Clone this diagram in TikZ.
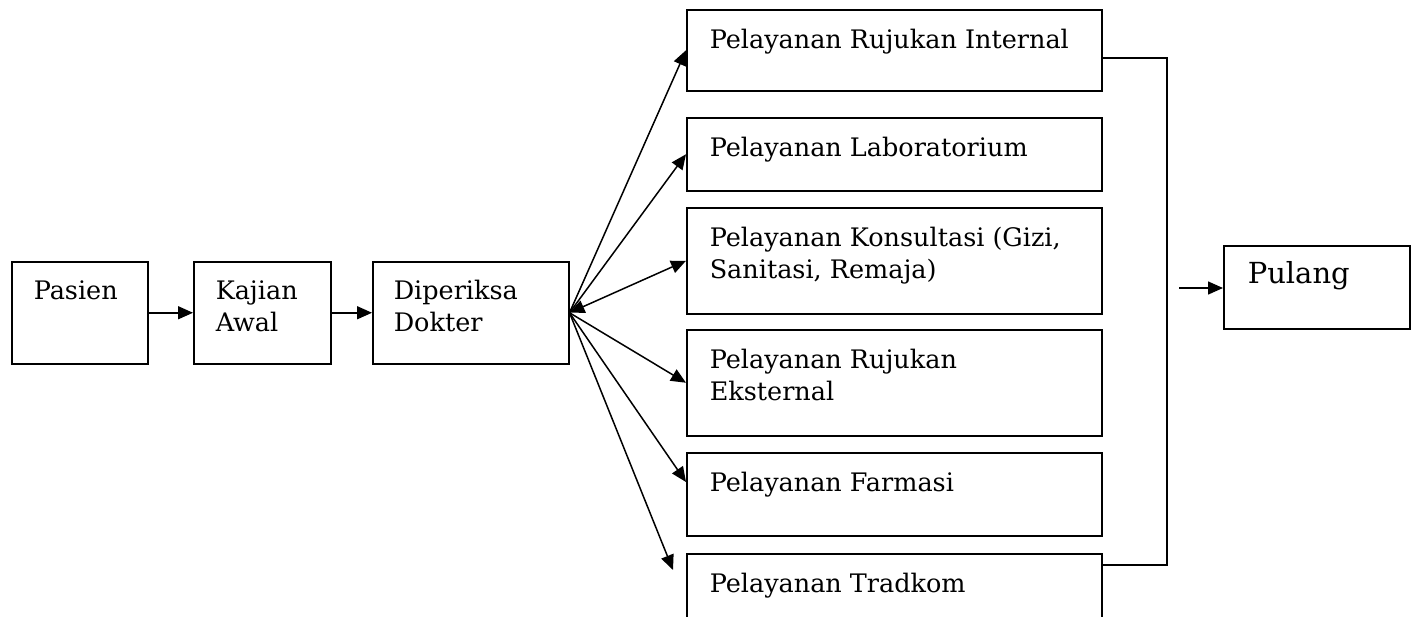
\documentclass[tikz,border=0pt]{standalone}
\usepackage{fontspec}
\setmainfont{DejaVu Serif}
\usetikzlibrary{arrows.meta}
\tikzset{>={Triangle[width=13pt,length=15pt]}}
\newcommand{\boxtext}[1]{\parbox[t]{400pt}{#1}}

\begin{document}
\begin{tikzpicture}[
    x = 1pt, y = -1pt,
    line width = 1.5pt,
    box/.style = {draw, anchor=north west, inner sep=0pt},
    txt/.style = {anchor=base west, inner sep=0pt,
        font=\fontsize{25.5}{32}\selectfont}
  ]
  \useasboundingbox (0,0) rectangle (1416,616);

  % alur awal
  \node[box, minimum width=136pt, minimum height=102pt] (pas) at (11,261) {};
  \node[box, minimum width=137pt, minimum height=102pt] (kaj) at (193,261) {};
  \node[box, minimum width=196pt, minimum height=102pt] (dok) at (372,261) {};
  \node[txt] (pas-t) at ([shift={(22pt,-38pt)}]pas.north west) {\boxtext{Pasien}};
  \node[txt] (kaj-t) at ([shift={(22pt,-38pt)}]kaj.north west) {\boxtext{Kajian\\Awal}};
  \node[txt] (dok-t) at ([shift={(21pt,-38pt)}]dok.north west) {\boxtext{Diperiksa\\Dokter}};

  % pelayanan
  \foreach \nm/\yy/\hh/\tx in {
      int/9/81/{Pelayanan Rujukan Internal},
      lab/117/73/{Pelayanan Laboratorium},
      kon/207/106/{Pelayanan Konsultasi (Gizi,\\Sanitasi, Remaja)},
      eks/329/106/{Pelayanan Rujukan\\Eksternal},
      far/452/83/{Pelayanan Farmasi},
      tra/553/80/{Pelayanan Tradkom}}
  {
    \node[box, minimum width=415pt, minimum height=\hh pt] (\nm) at (686,\yy) {};
    \node[txt] (\nm-t) at ([shift={(23pt,-39pt)}]\nm.north west) {\boxtext{\tx}};
  }

  \node[box, minimum width=186pt, minimum height=83pt] (pul) at (1223,245) {};
  \node[txt, font=\fontsize{29}{36}\selectfont] (pul-t)
    at ([shift={(24pt,-38pt)}]pul.north west) {Pulang};

  \draw[->] (pas) -- (kaj);
  \draw[->] (kaj) -- (dok);
  \draw[->] (dok.east) -- (int.west);
  \draw[->] (dok.east) -- (lab.west);
  \draw[<->] (dok.east) -- (kon.west);
  \draw[->] (dok.east) -- (eks.west);
  \draw[->] (dok.east) -- ([yshift=-30pt]far.north west);
  \draw[->] (dok.east) -- ([shift={(-13pt,-17pt)}]tra.north west);

  % gabungan ke pulang
  \coordinate (gtop) at (1167,58);
  \coordinate (gbot) at (1167,565);
  \coordinate (pin) at (1179,288);
  \draw (int.east |- gtop) -- (gtop) -- (gbot) -- (tra.east |- gbot);
  \draw[->] (pin) -- (pin -| pul.west);
\end{tikzpicture}
\end{document}
